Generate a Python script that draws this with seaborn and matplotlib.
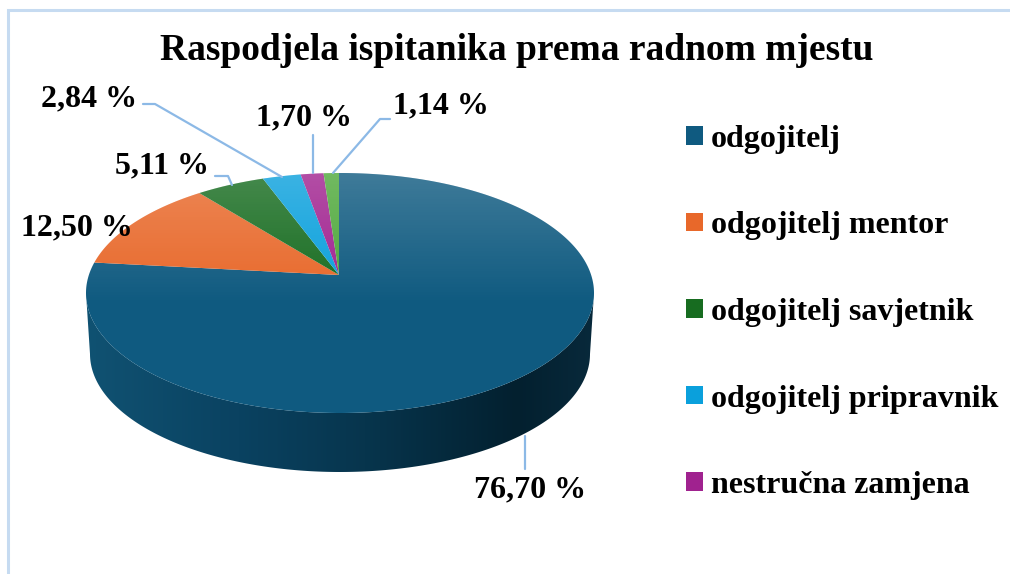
import numpy as np
import matplotlib
matplotlib.use("Agg")
import matplotlib.pyplot as plt
import seaborn as sns
from matplotlib.patches import Polygon, Patch
from matplotlib.colors import LinearSegmentedColormap

# ---------------- data ----------------
categories = ["odgojitelj", "odgojitelj mentor", "odgojitelj savjetnik",
              "odgojitelj pripravnik", "nestručna zamjena", "ostalo"]
values = [76.70, 12.50, 5.11, 2.84, 1.70, 1.14]
value_labels = ["76,70 %", "12,50 %", "5,11 %", "2,84 %", "1,70 %", "1,14 %"]
legend_count = 5
title = "Raspodjela ispitanika prema radnom mjestu"

# ---------------- style ----------------
colors = ["#0f5a80", "#e8682a", "#176c20", "#0aa0dc", "#a0228f", "#4ea83a"]
leader_color = "#8cb9e6"
frame_color = "#c6dbf1"

sns.set_theme(style="white")
plt.rcParams["font.family"] = ["Liberation Serif", "DejaVu Serif"]
plt.rcParams["font.weight"] = "bold"
plt.rcParams["text.color"] = "black"

W, H = 1010, 574
fig = plt.figure(figsize=(W / 100, H / 100), dpi=100)
ax = fig.add_axes([0, 0, 1, 1])
ax.set_xlim(0, W)
ax.set_ylim(H, 0)
ax.axis("off")

# geometry of the 3D pie (pixel space)
apex = np.array([339.0, 275.0])
cx, cy, ea, eb = 340.0, 293.0, 254.0, 120.0
k = eb / ea
depth_cy, da, db = 354.0, 250.0, 118.0


def rim_point(theta):
    dx, dy = np.sin(theta), -np.cos(theta) * k
    px, py = apex[0] - cx, apex[1] - cy
    A = (dx / ea) ** 2 + (dy / eb) ** 2
    B = 2 * (px * dx / ea ** 2 + py * dy / eb ** 2)
    C = (px / ea) ** 2 + (py / eb) ** 2 - 1
    t = (-B + np.sqrt(B * B - 4 * A * C)) / (2 * A)
    return apex[0] + dx * t, apex[1] + dy * t


# side face (front), drawn first
phi = np.linspace(0, np.pi, 200)
top_x = cx + ea * np.cos(phi)
top_y = cy + eb * np.sin(phi)
bot_x = cx + da * np.cos(phi[::-1])
bot_y = depth_cy + db * np.sin(phi[::-1])
side_pts = np.column_stack([np.r_[top_x, bot_x], np.r_[top_y, bot_y]])
side_poly = Polygon(side_pts, closed=True, facecolor="none", edgecolor="none")
ax.add_patch(side_poly)
side_cmap = LinearSegmentedColormap.from_list(
    "side", [(0.0, "#105272"), (0.3, "#0a4261"), (0.55, "#07354d"),
             (0.85, "#03202f"), (1.0, "#08293b")])
grad = np.linspace(0, 1, 256).reshape(1, -1)
im = ax.imshow(grad, cmap=side_cmap, extent=(cx - ea, cx + ea, depth_cy + db, cy - eb),
               aspect="auto", zorder=1, interpolation="bilinear")
im.set_clip_path(side_poly)
ax.set_xlim(0, W)
ax.set_ylim(H, 0)

# top face wedges
total = sum(values)
start = 0.0
for val, col in zip(values, colors):
    frac = val / total
    th = np.linspace(start, start + frac * 2 * np.pi, max(int(frac * 720), 4))
    pts = [apex] + [rim_point(t) for t in th]
    ax.add_patch(Polygon(pts, closed=True, facecolor=col, edgecolor="none", zorder=2))
    start += frac * 2 * np.pi

# light gradient overlay on the top face
tt = np.linspace(0, 2 * np.pi, 400)
top_poly = Polygon(np.column_stack([cx + ea * np.cos(tt), cy + eb * np.sin(tt)]),
                   closed=True, facecolor="none", edgecolor="none", zorder=3)
ax.add_patch(top_poly)
ov = np.zeros((256, 1, 4))
yy = np.linspace(0, 1, 256)
ov[:, 0, :3] = 1.0
ov[:, 0, 3] = np.clip(0.20 * (1 - yy / 0.55), 0, None)
im2 = ax.imshow(ov, extent=(cx - ea, cx + ea, cy + eb, cy - eb), aspect="auto",
                zorder=3, interpolation="bilinear")
im2.set_clip_path(top_poly)
ax.set_xlim(0, W)
ax.set_ylim(H, 0)

# leader lines
lw = 1.6
ax.plot([525, 525], [436, 469], color=leader_color, lw=lw, zorder=4)
ax.plot([215, 228, 232], [176, 176, 185], color=leader_color, lw=lw, zorder=4)
ax.plot([143, 155, 282], [104, 104, 177], color=leader_color, lw=lw, zorder=4)
ax.plot([313, 313], [135, 173], color=leader_color, lw=lw, zorder=4)
ax.plot([390, 380, 333], [119, 119, 173], color=leader_color, lw=lw, zorder=4)

# data labels
label_pos = [(530, 490), (77, 228), (162, 166), (89, 99), (304, 118), (441, 106)]
for (x, y), txt in zip(label_pos, value_labels):
    ax.text(x, y, txt, ha="center", va="center", fontsize=23, fontweight="bold",
            color="black", zorder=5)

# title
ax.text(517, 51, title, ha="center", va="center", fontsize=27, fontweight="bold",
        color="black")

# frame
ax.plot([8, 8, W + 5], [H + 5, 10, 10], color=frame_color, lw=2.2,
        solid_joinstyle="miter", clip_on=False)

# legend
handles = [Patch(facecolor=c, edgecolor="none") for c in colors[:legend_count]]
leg = ax.legend(handles, categories[:legend_count], loc="upper left",
                bbox_to_anchor=(686 / W, 1 - 125 / H), frameon=False,
                prop={"family": "Liberation Serif", "weight": "bold", "size": 23},
                labelcolor="black",
                handlelength=0.52, handleheight=0.52, handletextpad=0.25,
                labelspacing=1.8, borderpad=0, borderaxespad=0)

fig.savefig("out.png", dpi=100)
